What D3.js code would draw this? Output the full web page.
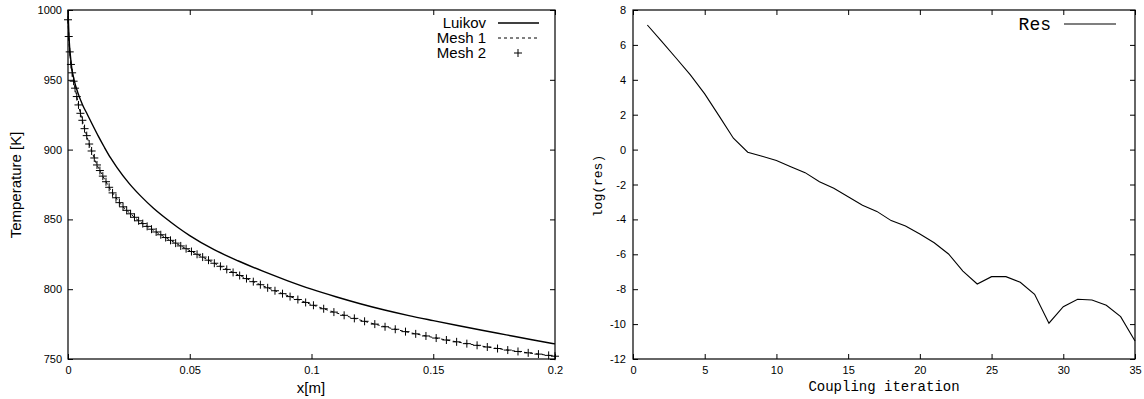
<!DOCTYPE html>
<html>
<head>
<meta charset="utf-8">
<script src="https://cdn.jsdelivr.net/npm/d3@7"></script>
<style>
    body { margin: 0; background: #fff; }
    .tick text { font-family: "Liberation Sans", Arial, sans-serif; font-size: 11px; fill: #000; }
    .tick line { stroke: #000; }
    .label { font-family: "Liberation Sans", Arial, sans-serif; font-size: 15px; fill: #000; }
    .mono { font-family: "Liberation Mono", "Courier New", monospace; fill: #000; }
</style>
</head>
<body>
<div class="chart"></div>
<script>
// left panel: temperature profile
const luikovX = [0, 0.0005, 0.001, 0.0015, 0.0025, 0.004, 0.006, 0.008, 0.010, 0.0125, 0.015, 0.0175, 0.020, 0.025, 0.030, 0.035, 0.040, 0.045, 0.050, 0.060, 0.070, 0.080, 0.090, 0.100, 0.110, 0.120, 0.130, 0.140, 0.150, 0.160, 0.170, 0.180, 0.190, 0.200]
const luikovT = [1000, 978, 967, 959, 950, 941, 932, 925, 918, 909.5, 901.5, 894, 887.5, 876, 866.5, 858.2, 851, 844.4, 838.4, 828.3, 820.2, 812.9, 806.2, 800, 794.6, 789.6, 785.1, 781.1, 777.5, 774, 770.6, 767.3, 764, 760.8]

const meshX = [0, 0.0003, 0.0007, 0.0012, 0.0017, 0.0023, 0.0029, 0.0036, 0.0043, 0.0051, 0.0059, 0.0068, 0.0077, 0.0087, 0.0097, 0.0108, 0.0119, 0.0131, 0.0143, 0.0156, 0.0169, 0.0183, 0.0197,
    0.0211, 0.0226, 0.0241, 0.0257, 0.0273, 0.0290, 0.0307, 0.0325, 0.0343, 0.0362, 0.0381, 0.0401, 0.0421, 0.0442, 0.0463, 0.0485, 0.0507,
    0.0530, 0.0553, 0.0577, 0.0601, 0.0626, 0.0652, 0.0678, 0.0705, 0.0733, 0.0761, 0.0790, 0.0820, 0.0850, 0.0881, 0.0912, 0.0944, 0.0976, 0.1008,
    0.1050, 0.1092, 0.1134, 0.1176, 0.1218, 0.1260, 0.1302, 0.1344, 0.1386, 0.1428, 0.1470, 0.1512, 0.1554, 0.1596, 0.1638, 0.1680, 0.1722, 0.1764, 0.1806, 0.1848, 0.1890, 0.1932, 0.1974, 0.2000]
const meshT = [993, 981, 970, 961, 955, 949, 944, 938, 932, 926, 921, 915, 910, 904, 899, 894, 889, 885, 881, 877, 873, 869, 865.5,
    862, 859, 856.5, 854, 851.5, 849, 847, 845, 843, 841, 839, 837, 835, 833, 831, 829, 827,
    825, 823, 820.8, 818.6, 816.4, 814.2, 812, 809.8, 807.6, 805.4, 803.2, 801, 798.9, 796.8, 794.7, 792.6, 790.5, 788.5,
    786.0, 783.6, 781.3, 779.1, 777.0, 775.0, 773.1, 771.3, 769.6, 768.0, 766.5, 765.0, 763.6, 762.3, 761.0, 759.8, 758.6, 757.5, 756.4, 755.4, 754.4, 753.5, 752.6, 752.0]

const tempXTicks = [0, 0.05, 0.1, 0.15, 0.2]
const tempYTicks = [750, 800, 850, 900, 950, 1000]
const tempLegend = ["Luikov", "Mesh 1", "Mesh 2"]

// right panel: residual history
const resIter = [1, 2, 3, 4, 5, 6, 7, 8, 9, 10, 11, 12, 13, 14, 15, 16, 17, 18, 19, 20, 21, 22, 23, 24, 25, 26, 27, 28, 29, 30, 31, 32, 33, 34, 35]
const resLog = [7.14, 6.2, 5.25, 4.28, 3.19, 1.93, 0.65, -0.15, -0.38, -0.62, -0.98, -1.32, -1.84, -2.22, -2.70, -3.19, -3.54, -4.07, -4.38, -4.84,
    -5.34, -5.98, -6.96, -7.70, -7.28, -7.28, -7.6, -8.29, -9.95, -9.0, -8.58, -8.62, -8.92, -9.57, -10.97]
const resXTicks = [0, 5, 10, 15, 20, 25, 30, 35]
const resYTicks = [-12, -10, -8, -6, -4, -2, 0, 2, 4, 6, 8]

const w = 1144, h = 399;
const tick = 5;

var svg = d3.select(".chart").append("svg")
    .attr("width", w)
    .attr("height", h);

function frame(x, y, pad) {
    var g = svg.append("g");
    g.append("g")
        .attr("transform", `translate(0,${y.range()[0]})`)
        .call(d3.axisBottom(x).tickValues(x.ticksList).tickSize(-tick).tickSizeOuter(0).tickPadding(7).tickFormat(d => String(d)));
    g.append("g")
        .attr("transform", `translate(0,${y.range()[1]})`)
        .call(d3.axisTop(x).tickValues(x.ticksList).tickSize(-tick).tickSizeOuter(0).tickFormat(""));
    g.append("g")
        .attr("transform", `translate(${x.range()[0]},0)`)
        .call(d3.axisLeft(y).tickValues(y.ticksList).tickSize(-tick).tickSizeOuter(0).tickPadding(pad).tickFormat(d => String(d)));
    g.append("g")
        .attr("transform", `translate(${x.range()[1]},0)`)
        .call(d3.axisRight(y).tickValues(y.ticksList).tickSize(-tick).tickSizeOuter(0).tickFormat(""));
    g.selectAll(".domain").remove();
    g.append("rect")
        .attr("x", x.range()[0])
        .attr("y", y.range()[1])
        .attr("width", x.range()[1] - x.range()[0])
        .attr("height", y.range()[0] - y.range()[1])
        .attr("fill", "none")
        .attr("stroke", "#000")
        .attr("stroke-width", 1.2);
    return g;
}

// ---- left chart
var xT = d3.scaleLinear().domain([0, 0.2]).range([68, 555]);
var yT = d3.scaleLinear().domain([750, 1000]).range([359, 10]);
xT.ticksList = tempXTicks;
yT.ticksList = tempYTicks;
frame(xT, yT, 6);

var luikov = luikovX.map((d, i) => [d, luikovT[i]]);
var mesh = meshX.map((d, i) => [d, meshT[i]]);

var lineT = d3.line().x(d => xT(d[0])).y(d => yT(d[1])).curve(d3.curveMonotoneX);

svg.append("path")
    .datum(luikov)
    .attr("d", lineT)
    .attr("fill", "none")
    .attr("stroke", "#000")
    .attr("stroke-width", 1.4);

svg.append("path")
    .datum(mesh)
    .attr("d", lineT)
    .attr("fill", "none")
    .attr("stroke", "#000")
    .attr("stroke-width", 1)
    .attr("stroke-dasharray", "3,3");

const plus = "M-4,0H4M0,-4V4";
svg.append("g").selectAll("path")
    .data(mesh)
    .enter().append("path")
    .attr("d", plus)
    .attr("transform", d => `translate(${xT(d[0])},${yT(d[1])})`)
    .attr("stroke", "#000")
    .attr("stroke-width", 1);

svg.append("text")
    .attr("class", "label")
    .attr("x", 311)
    .attr("y", 393)
    .attr("text-anchor", "middle")
    .text("x[m]");

svg.append("text")
    .attr("class", "label")
    .attr("transform", "translate(21,185) rotate(-90)")
    .attr("text-anchor", "middle")
    .text("Temperature [K]");

// legend
var legend = svg.append("g").selectAll("g")
    .data(tempLegend)
    .enter().append("g")
    .attr("transform", (d, i) => `translate(0,${23 + i * 15})`);

legend.append("text")
    .attr("class", "label")
    .attr("x", 486)
    .attr("dy", "0.35em")
    .attr("text-anchor", "end")
    .text(d => d);

legend.filter((d, i) => i < 2).append("line")
    .attr("x1", 498)
    .attr("x2", 539)
    .attr("stroke", "#000")
    .attr("stroke-width", (d, i) => i == 0 ? 1.4 : 1)
    .attr("stroke-dasharray", (d, i) => i == 0 ? null : "3,3");

legend.filter((d, i) => i == 2).append("path")
    .attr("d", plus)
    .attr("transform", "translate(518,0)")
    .attr("stroke", "#000");

// ---- right chart
var xR = d3.scaleLinear().domain([0, 35]).range([633, 1135]);
var yR = d3.scaleLinear().domain([-12, 8]).range([359, 10]);
xR.ticksList = resXTicks;
yR.ticksList = resYTicks;
frame(xR, yR, 7);

svg.append("path")
    .datum(resIter.map((d, i) => [d, resLog[i]]))
    .attr("d", d3.line().x(d => xR(d[0])).y(d => yR(d[1])))
    .attr("fill", "none")
    .attr("stroke", "#000")
    .attr("stroke-width", 1.1);

svg.append("text")
    .attr("class", "mono")
    .attr("x", 884)
    .attr("y", 391)
    .attr("text-anchor", "middle")
    .style("font-size", "14px")
    .text("Coupling iteration");

svg.append("text")
    .attr("class", "mono")
    .attr("transform", "translate(602,186) rotate(-90)")
    .attr("text-anchor", "middle")
    .style("font-size", "13px")
    .text("log(res)");

svg.append("text")
    .attr("class", "mono")
    .attr("x", 1051)
    .attr("y", 24)
    .attr("dy", "0.35em")
    .attr("text-anchor", "end")
    .style("font-size", "18px")
    .text("Res");

svg.append("line")
    .attr("x1", 1064)
    .attr("x2", 1116)
    .attr("y1", 24)
    .attr("y2", 24)
    .attr("stroke", "#000")
    .attr("stroke-width", 1.1);
</script>
</body>
</html>
